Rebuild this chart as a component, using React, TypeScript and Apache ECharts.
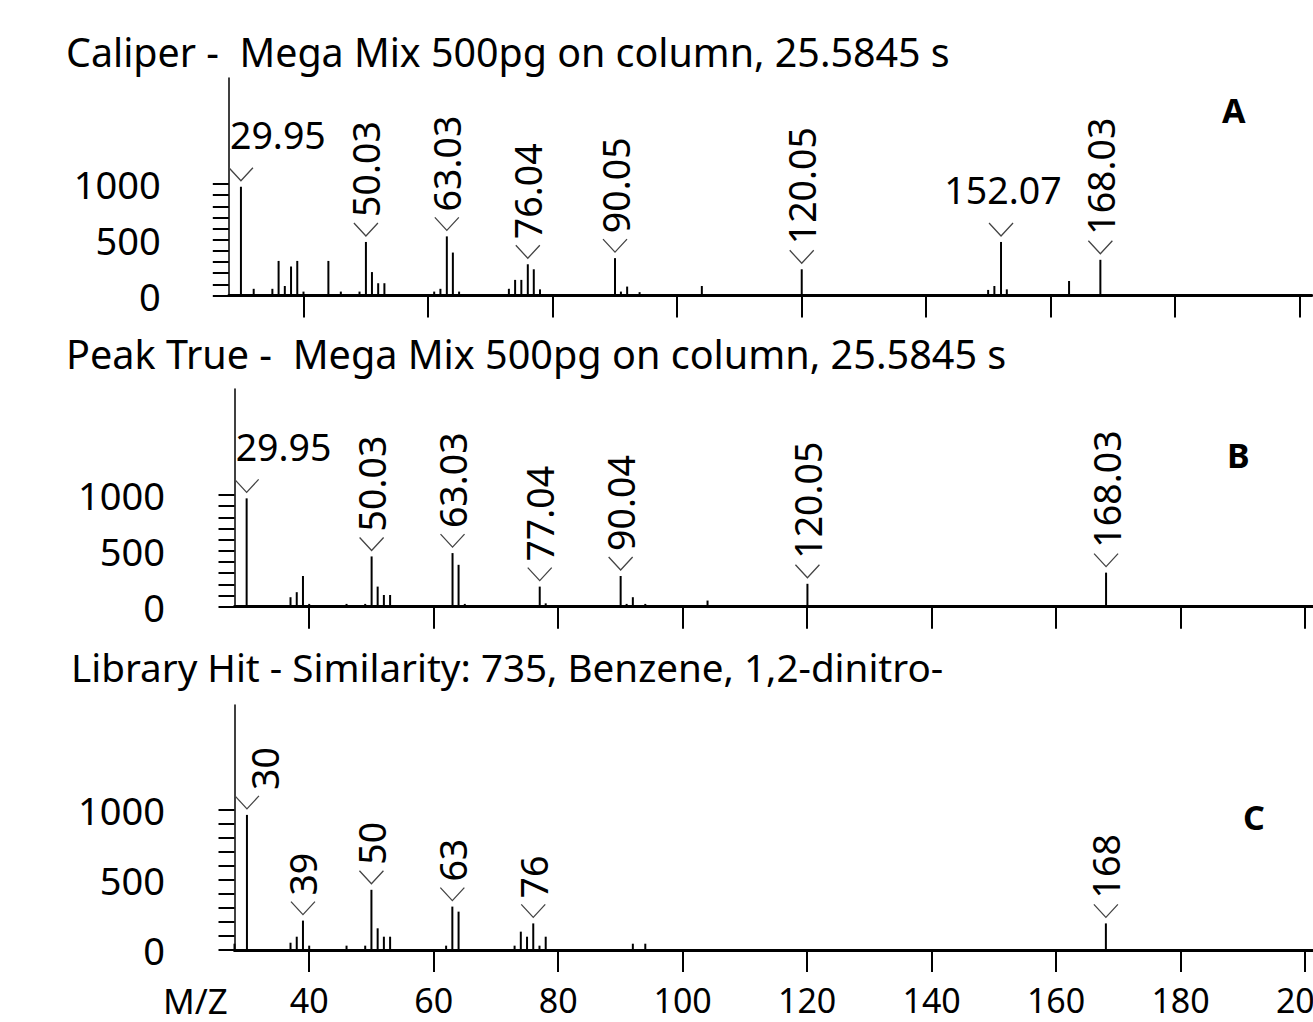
import React, { useEffect, useRef } from "react";
import * as echarts from "echarts";

const FONT = "'Noto Sans', 'DejaVu Sans', sans-serif";

// ---------- Data ----------
// Panel A: Caliper spectrum
const mzA = [29.95, 32, 35, 36, 37, 38, 39, 40, 44, 46, 49, 50.03, 51, 52, 53, 61, 62, 63.03, 64, 65, 73, 74, 75, 76.04, 77, 78, 90.05, 91, 92, 94, 104, 120.05, 150, 151, 152.07, 153, 163, 168.03];
const intA = [975, 60, 60, 310, 85, 260, 310, 35, 310, 35, 35, 480, 210, 110, 110, 35, 60, 530, 385, 35, 60, 140, 140, 280, 235, 55, 335, 35, 80, 30, 85, 235, 50, 85, 480, 55, 130, 320];
const labelsA = [29.95, 50.03, 63.03, 76.04, 90.05, 120.05, 152.07, 168.03];

// Panel B: Peak True spectrum
const mzB = [29.95, 37, 38, 39, 40, 46, 49, 50.03, 51, 52, 53, 63.03, 64, 65, 77.04, 78, 90.04, 91, 92, 94, 104, 120.05, 168.03];
const intB = [970, 85, 130, 275, 25, 25, 25, 450, 180, 105, 105, 480, 375, 25, 180, 30, 275, 25, 85, 25, 55, 205, 305];
const labelsB = [29.95, 50.03, 63.03, 77.04, 90.04, 120.05, 168.03];

// Panel C: Library hit spectrum
const mzC = [28, 30, 37, 38, 39, 40, 46, 49, 50, 51, 52, 53, 62, 63, 64, 73, 74, 75, 76, 77, 78, 92, 94, 168];
const intC = [45, 965, 52, 95, 210, 31, 31, 31, 430, 155, 95, 95, 31, 310, 274, 31, 131, 95, 190, 31, 95, 45, 45, 190];
const labelsC = [30, 39, 50, 63, 76, 168];

const titles = [
  "Caliper -  Mega Mix 500pg on column, 25.5845 s",
  "Peak True -  Mega Mix 500pg on column, 25.5845 s",
  "Library Hit - Similarity: 735, Benzene, 1,2-dinitro-",
];
const panelLetters = ["A", "B", "C"];
const xAxisName = "M/Z";
const xTicks = [40, 60, 80, 100, 120, 140, 160, 180, 200];
const yMinorTicks = [0, 100, 200, 300, 400, 500, 600, 700, 800, 900, 1000];
const yLabels = [0, 500, 1000];

// ---------- Layout / style config ----------
const panels = [
  { mz: mzA, int: intA, labels: labelsA, modes: ["hl", "v", "v", "v", "v", "v", "hc", "v"], dec: 2, left: 228.8, top: 78, height: 217.5, ymax: 1950, labelMargin: 68 },
  { mz: mzB, int: intB, labels: labelsB, modes: ["hl", "v", "v", "v", "v", "v", "v"], dec: 2, left: 234.5, top: 388.9, height: 217.8, ymax: 1950, labelMargin: 69.5 },
  { mz: mzC, int: intC, labels: labelsC, modes: ["vr", "v", "v", "v", "v", "v"], dec: 0, left: 234.5, top: 705, height: 245, ymax: 1750, labelMargin: 69.5 },
];
const titlePos = [
  { left: 66, top: 32, size: 39.4 },
  { left: 66, top: 334, size: 39.6 },
  { left: 71, top: 647, size: 38.6 },
];
const letterPos = [
  { left: 1222, top: 93 },
  { left: 1227, top: 438 },
  { left: 1243, top: 800 },
];

function buildOption(): any {
  const grid: any[] = [];
  const xAxis: any[] = [];
  const yAxis: any[] = [];
  const series: any[] = [];
  const title: any[] = [];

  panels.forEach((p, i) => {
    grid.push({ left: p.left, top: p.top, height: p.height, width: 1083, containLabel: false, outerBoundsMode: "none" });
    xAxis.push({
      gridIndex: i,
      type: "value",
      min: 28,
      max: 202,
      axisLine: { show: true, onZero: true, lineStyle: { color: "#000", width: 3 } },
      axisTick: { show: true, inside: false, length: 22, customValues: xTicks, lineStyle: { color: "#000", width: 2 } },
      axisLabel: {
        show: i === 2,
        customValues: xTicks,
        margin: 35,
        fontFamily: FONT,
        fontSize: 34,
        lineHeight: 30,
        color: "#000",
        formatter: (v: number) => String(v),
      },
      splitLine: { show: false },
    });
    yAxis.push({
      gridIndex: i,
      type: "value",
      min: 0,
      max: p.ymax,
      axisLine: { show: true, onZero: false, lineStyle: { color: "#000", width: 1.5 } },
      axisTick: { show: true, inside: false, length: 16, customValues: yMinorTicks, lineStyle: { color: "#000", width: 2 } },
      axisLabel: {
        show: true,
        customValues: yLabels,
        margin: p.labelMargin,
        fontFamily: FONT,
        fontSize: 38,
        color: "#000",
        formatter: (v: number) => String(v),
      },
      splitLine: { show: false },
    });

    // sticks
    series.push({
      type: "custom",
      xAxisIndex: i,
      yAxisIndex: i,
      data: p.mz.map((m, k) => [m, p.int[k]]),
      encode: { x: 0, y: 1 },
      renderItem: (params: any, api: any) => {
        const base = api.coord([api.value(0), 0]);
        const top = api.coord([api.value(0), api.value(1)]);
        return {
          type: "line",
          shape: { x1: base[0], y1: base[1], x2: top[0], y2: top[1] },
          style: { stroke: "#000", lineWidth: 2 },
        };
      },
    });

    // peak labels
    series.push({
      type: "custom",
      xAxisIndex: i,
      yAxisIndex: i,
      data: p.labels.map((m) => [m, p.int[p.mz.indexOf(m)]]),
      encode: { x: 0, y: 1 },
      renderItem: (params: any, api: any) => {
        const m = api.value(0);
        const pt = api.coord([m, api.value(1)]);
        const px = pt[0];
        const py = pt[1];
        const mode = p.modes[params.dataIndex];
        const text = Number(m).toFixed(p.dec);
        const chevron = {
          type: "polyline",
          shape: { points: [[px - 12, py - 19], [px, py - 6], [px + 12, py - 19]] },
          style: { stroke: "#444", lineWidth: 1.3, fill: "none" },
        };
        let label: any;
        if (mode === "v" || mode === "vr") {
          label = {
            type: "text",
            x: px + (mode === "vr" ? 18 : 0),
            y: py - 25,
            rotation: Math.PI / 2,
            style: { text, fontFamily: FONT, fontSize: 37.5, fill: "#000", align: "left", verticalAlign: "middle" },
          };
        } else {
          label = {
            type: "text",
            x: mode === "hl" ? px - 11 : px + 2,
            y: py - 52,
            style: { text, fontFamily: FONT, fontSize: 37.5, fill: "#000", align: mode === "hl" ? "left" : "center", verticalAlign: "middle" },
          };
        }
        return { type: "group", children: [chevron, label] };
      },
    });

    title.push({
      text: titles[i],
      left: titlePos[i].left,
      top: titlePos[i].top,
      padding: 0,
      textStyle: { fontFamily: FONT, fontSize: titlePos[i].size, fontWeight: "normal", color: "#000", lineHeight: 40 },
    });
    title.push({
      text: panelLetters[i],
      left: letterPos[i].left,
      top: letterPos[i].top,
      padding: 0,
      textStyle: { fontFamily: FONT, fontSize: 34, fontWeight: "bold", color: "#000", lineHeight: 34 },
    });
  });

  // axis name of the bottom panel
  title.push({
    text: xAxisName,
    left: 163,
    top: 985,
    padding: 0,
    textStyle: { fontFamily: FONT, fontSize: 35, fontWeight: "normal", color: "#000", lineHeight: 30 },
  });

  return {
    animation: false,
    backgroundColor: "#fff",
    title,
    grid,
    xAxis,
    yAxis,
    series,
  };
}

export default function App() {
  const ref = useRef<HTMLDivElement>(null);
  useEffect(() => {
    document.body.style.margin = "0";
    const chart = echarts.init(ref.current!, null, { renderer: "svg" });
    chart.setOption(buildOption());
    return () => chart.dispose();
  }, []);
  return (
    <div style={{ width: 1313, height: 1022, overflow: "hidden", background: "#fff" }}>
      <div ref={ref} style={{ width: 1313, height: 1022 }} />
    </div>
  );
}
